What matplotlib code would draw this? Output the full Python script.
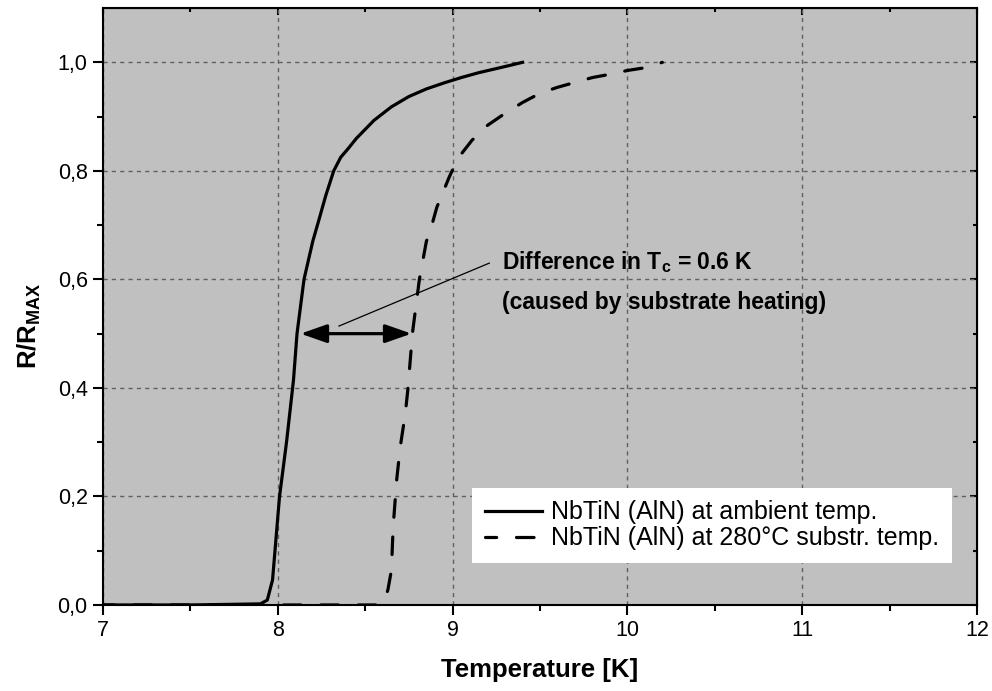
import matplotlib
matplotlib.use('Agg')
import matplotlib.pyplot as plt
from matplotlib.ticker import MultipleLocator, FixedLocator

plt.rcParams['font.family'] = ['Liberation Sans', 'DejaVu Sans']
plt.rcParams['mathtext.fontset'] = 'custom'
plt.rcParams['mathtext.rm'] = 'Liberation Sans'
plt.rcParams['mathtext.bf'] = 'Liberation Sans:bold'

# NbTiN (AlN) at ambient temperature
t_amb = [7.0, 7.5, 7.9, 7.94, 7.97, 8.01, 8.05, 8.09, 8.11, 8.15, 8.2, 8.24,
         8.275, 8.32, 8.36, 8.40, 8.45, 8.55, 8.65, 8.75, 8.85, 8.95, 9.05,
         9.15, 9.27, 9.4]
r_amb = [0.0, 0.0, 0.002, 0.009, 0.046, 0.2, 0.30, 0.415, 0.5, 0.6, 0.67, 0.715,
         0.755, 0.8, 0.825, 0.84, 0.86, 0.893, 0.918, 0.937, 0.951, 0.962, 0.972,
         0.981, 0.99, 1.0]

# NbTiN (AlN) at 280 C substrate temperature
t_sub = [7.0, 8.58, 8.61, 8.63, 8.65, 8.66, 8.68, 8.70, 8.73, 8.745, 8.77, 8.81,
         8.85, 8.87, 8.91, 8.98, 9.03, 9.11, 9.2, 9.3, 9.4, 9.5, 9.6, 9.7, 9.8,
         9.9, 10.0, 10.1, 10.2]
r_sub = [0.0, 0.0, 0.008, 0.028, 0.064, 0.144, 0.23, 0.29, 0.354, 0.40, 0.5, 0.6,
         0.67, 0.687, 0.733, 0.788, 0.823, 0.856, 0.884, 0.906, 0.926, 0.943, 0.954,
         0.963, 0.972, 0.978, 0.985, 0.99, 1.0]

# Tc difference arrow and leader line
arrow_left = (8.13, 0.5)
arrow_right = (8.765, 0.5)
leader_x = [8.35, 9.21]
leader_y = [0.514, 0.63]

fig = plt.figure(figsize=(9.92, 6.91), dpi=100)
ax = fig.add_axes([0.1038, 0.1245, 0.8811, 0.8638])
ax.set_facecolor('#c0c0c0')

ax.plot(t_amb, r_amb, color='black', lw=2.3, solid_joinstyle='round',
        label='NbTiN (AlN) at ambient temp.', zorder=3)
ax.plot(t_sub, r_sub, color='black', lw=2.3, linestyle=(2, (5.5, 6.2)),
        dash_capstyle='round', label='NbTiN (AlN) at 280°C substr. temp.', zorder=3)

ax.annotate('', xy=arrow_left, xytext=arrow_right,
            arrowprops=dict(arrowstyle='<|-|>,head_length=0.8,head_width=0.28',
                            lw=2.3, color='black', shrinkA=0, shrinkB=0,
                            mutation_scale=20), zorder=4)
ax.plot(leader_x, leader_y, color='black', lw=0.9, zorder=4)
ax.text(9.28, 0.632, r'Difference in T$_{\mathbf{c}}$ = 0.6 K', fontsize=16.5,
        fontweight='bold', va='center', ha='left')
ax.text(9.28, 0.558, '(caused by substrate heating)', fontsize=16.5,
        fontweight='bold', va='center', ha='left')

ax.set_xlim(7, 12)
ax.set_ylim(0, 1.1)
ax.xaxis.set_major_locator(MultipleLocator(1))
ax.xaxis.set_minor_locator(MultipleLocator(0.5))
ax.yaxis.set_major_locator(FixedLocator([0, 0.2, 0.4, 0.6, 0.8, 1.0]))
ax.yaxis.set_minor_locator(FixedLocator([0.1, 0.3, 0.5, 0.7, 0.9]))
ax.set_yticklabels(['0,0', '0,2', '0,4', '0,6', '0,8', '1,0'])
ax.tick_params(which='major', direction='out', length=7, width=1.5, labelsize=15.5, pad=4)
ax.tick_params(which='minor', direction='out', length=4, width=1.5)

ax.grid(True, which='major', color='#606060', linestyle=(0, (3, 3)), lw=1)
ax.set_axisbelow(True)
for s in ax.spines.values():
    s.set_linewidth(1.5)

# inward ticks on top and right
top = ax.secondary_xaxis('top')
top.xaxis.set_major_locator(MultipleLocator(1))
top.xaxis.set_minor_locator(MultipleLocator(0.5))
top.tick_params(which='both', direction='in', labeltop=False, width=1.5)
top.tick_params(which='major', length=5)
top.tick_params(which='minor', length=3)
right = ax.secondary_yaxis('right')
right.yaxis.set_major_locator(FixedLocator([0, 0.2, 0.4, 0.6, 0.8, 1.0]))
right.yaxis.set_minor_locator(FixedLocator([0.1, 0.3, 0.5, 0.7, 0.9]))
right.tick_params(which='both', direction='in', labelright=False, width=1.5)
right.tick_params(which='major', length=5)
right.tick_params(which='minor', length=3)

ax.set_xlabel('Temperature [K]', fontsize=18.5, fontweight='bold', labelpad=12)
ax.set_ylabel(r'R/R$_{\mathbf{MAX}}$', fontsize=18.5, fontweight='bold')
ax.yaxis.set_label_coords(-0.069, 0.467)

leg = ax.legend(loc='lower right', bbox_to_anchor=(0.971, 0.0704), borderaxespad=0,
                fontsize=18, frameon=True, fancybox=False, framealpha=1,
                edgecolor='none', handlelength=2.3, handletextpad=0.36,
                labelspacing=0.08, borderpad=0.5)
leg.get_frame().set_linewidth(0)

plt.savefig('out.png', dpi=100)
